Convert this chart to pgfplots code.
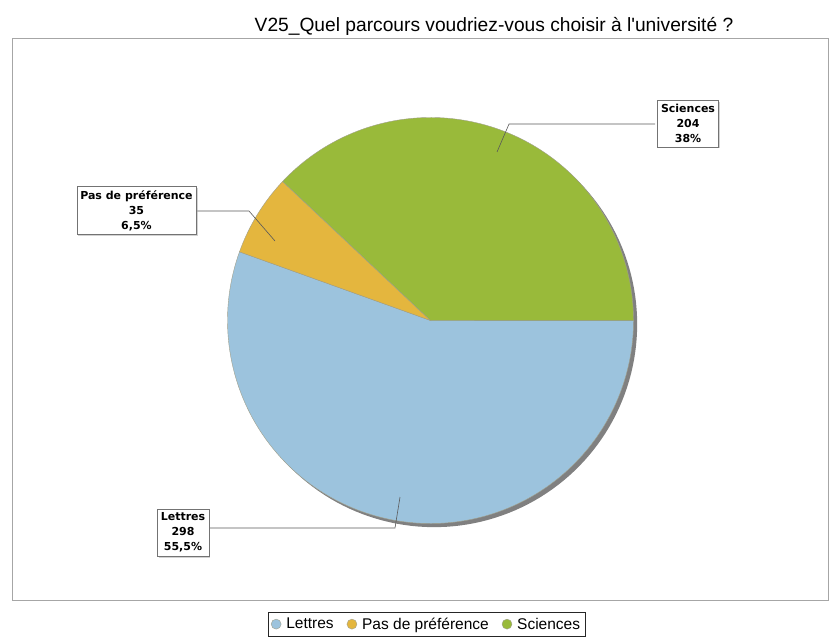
\documentclass[border=0pt]{standalone}
\usepackage{pgfplots}
\pgfplotsset{compat=1.18}
\usepackage{pgfplotstable}
\usepackage{fontspec}
\setmainfont{Liberation Sans}
\newfontfamily\titlefont{Liberation Sans}
\newfontfamily\labelfont{DejaVu Sans}
\usetikzlibrary{shadows}
\definecolor{cL}{RGB}{156,195,221}
\definecolor{cP}{RGB}{228,182,62}
\definecolor{cS}{RGB}{153,186,58}
\definecolor{edge}{RGB}{160,160,140}
\pgfplotstableread{
cat count
Lettres 298
Pas 35
Sciences 204
}\datatable
\pgfplotstablegetelem{0}{count}\of\datatable \let\nL\pgfplotsretval
\pgfplotstablegetelem{1}{count}\of\datatable \let\nP\pgfplotsretval
\pgfplotstablegetelem{2}{count}\of\datatable \let\nS\pgfplotsretval
\pgfmathsetmacro\tot{\nL+\nP+\nS}
\pgfmathsetmacro\aL{360*(\nL/\tot)}
\pgfmathsetmacro\aLP{360*((\nL+\nP)/\tot)}
\begin{document}
\begin{tikzpicture}
\begin{axis}[
  scale only axis, width=816pt, height=562pt,
  xmin=-2.0616, xmax=1.9581, ymin=-1.3768, ymax=1.3916,
  axis line style={draw=black!35},
  xtick=\empty, ytick=\empty, clip=false,
  legend image code/.code={\fill (0.35em,0) circle (5pt);},
  legend columns=3,
  legend style={at={(0.508,-0.0213)}, anchor=north, draw=black!85,
    font=\fontsize{15.5}{17}\selectfont, inner xsep=3pt, inner ysep=3.5pt,
    /tikz/every odd column/.append style={column sep=3pt},
    /tikz/every even column/.append style={column sep=11pt}},
]
\path (rel axis cs:-0.0147,-0.0658) rectangle (rel axis cs:1.0147,1.0676);
\node[anchor=base, font=\titlefont\fontsize{19.2}{21}\selectfont] at (rel axis cs:0.5907,1.0107)
  {V25\_Quel parcours voudriez-vous choisir à l'université ?};
% shadow
\addplot[forget plot, fill=black!50, draw=none, domain=0:360, samples=180]
  ({cos(x)+0.018},{sin(x)-0.018});
\addplot[fill=cL, draw=edge, line width=0.4pt, domain=-\aL:0, samples=150]
  ({cos(x)},{sin(x)}) -- (axis cs:0,0) -- cycle;
\addlegendentry{Lettres}
\addplot[fill=cP, draw=edge, line width=0.4pt, domain=-\aLP:-\aL, samples=30]
  ({cos(x)},{sin(x)}) -- (axis cs:0,0) -- cycle;
\addlegendentry{Pas de préférence}
\addplot[fill=cS, draw=edge, line width=0.4pt, domain=-360:-\aLP, samples=120]
  ({cos(x)},{sin(x)}) -- (axis cs:0,0) -- cycle;
\addlegendentry{Sciences}
% leader lines
\draw[black!65, line width=0.6pt] (axis cs:1.1059,0.9680) -- (axis cs:0.3867,0.9680) -- (axis cs:0.3276,0.8300);
\draw[black!65, line width=0.6pt] (axis cs:-1.1601,0.5394) -- (axis cs:-0.8941,0.5394) -- (axis cs:-0.7660,0.3916);
\draw[black!65, line width=0.6pt] (axis cs:-1.1059,-1.0222) -- (axis cs:-0.1749,-1.0222) -- (axis cs:-0.1502,-0.8695);
% labels
\tikzset{lbl/.style={draw=black!55, fill=white, align=center, inner xsep=3.5pt, inner ysep=4pt,
  font=\labelfont\bfseries\fontsize{11}{15}\selectfont,
  drop shadow={shadow xshift=1.5pt, shadow yshift=-1.5pt, fill=black!35}}}
\node[lbl] at (axis cs:1.2685,0.9704) {Sciences\\204\\38\%};
\node[lbl] at (axis cs:-1.4483,0.5419) {Pas de préférence\\35\\6,5\%};
\node[lbl] at (axis cs:-1.2192,-1.0443) {Lettres\\298\\55,5\%};
\end{axis}
\end{tikzpicture}
\end{document}
